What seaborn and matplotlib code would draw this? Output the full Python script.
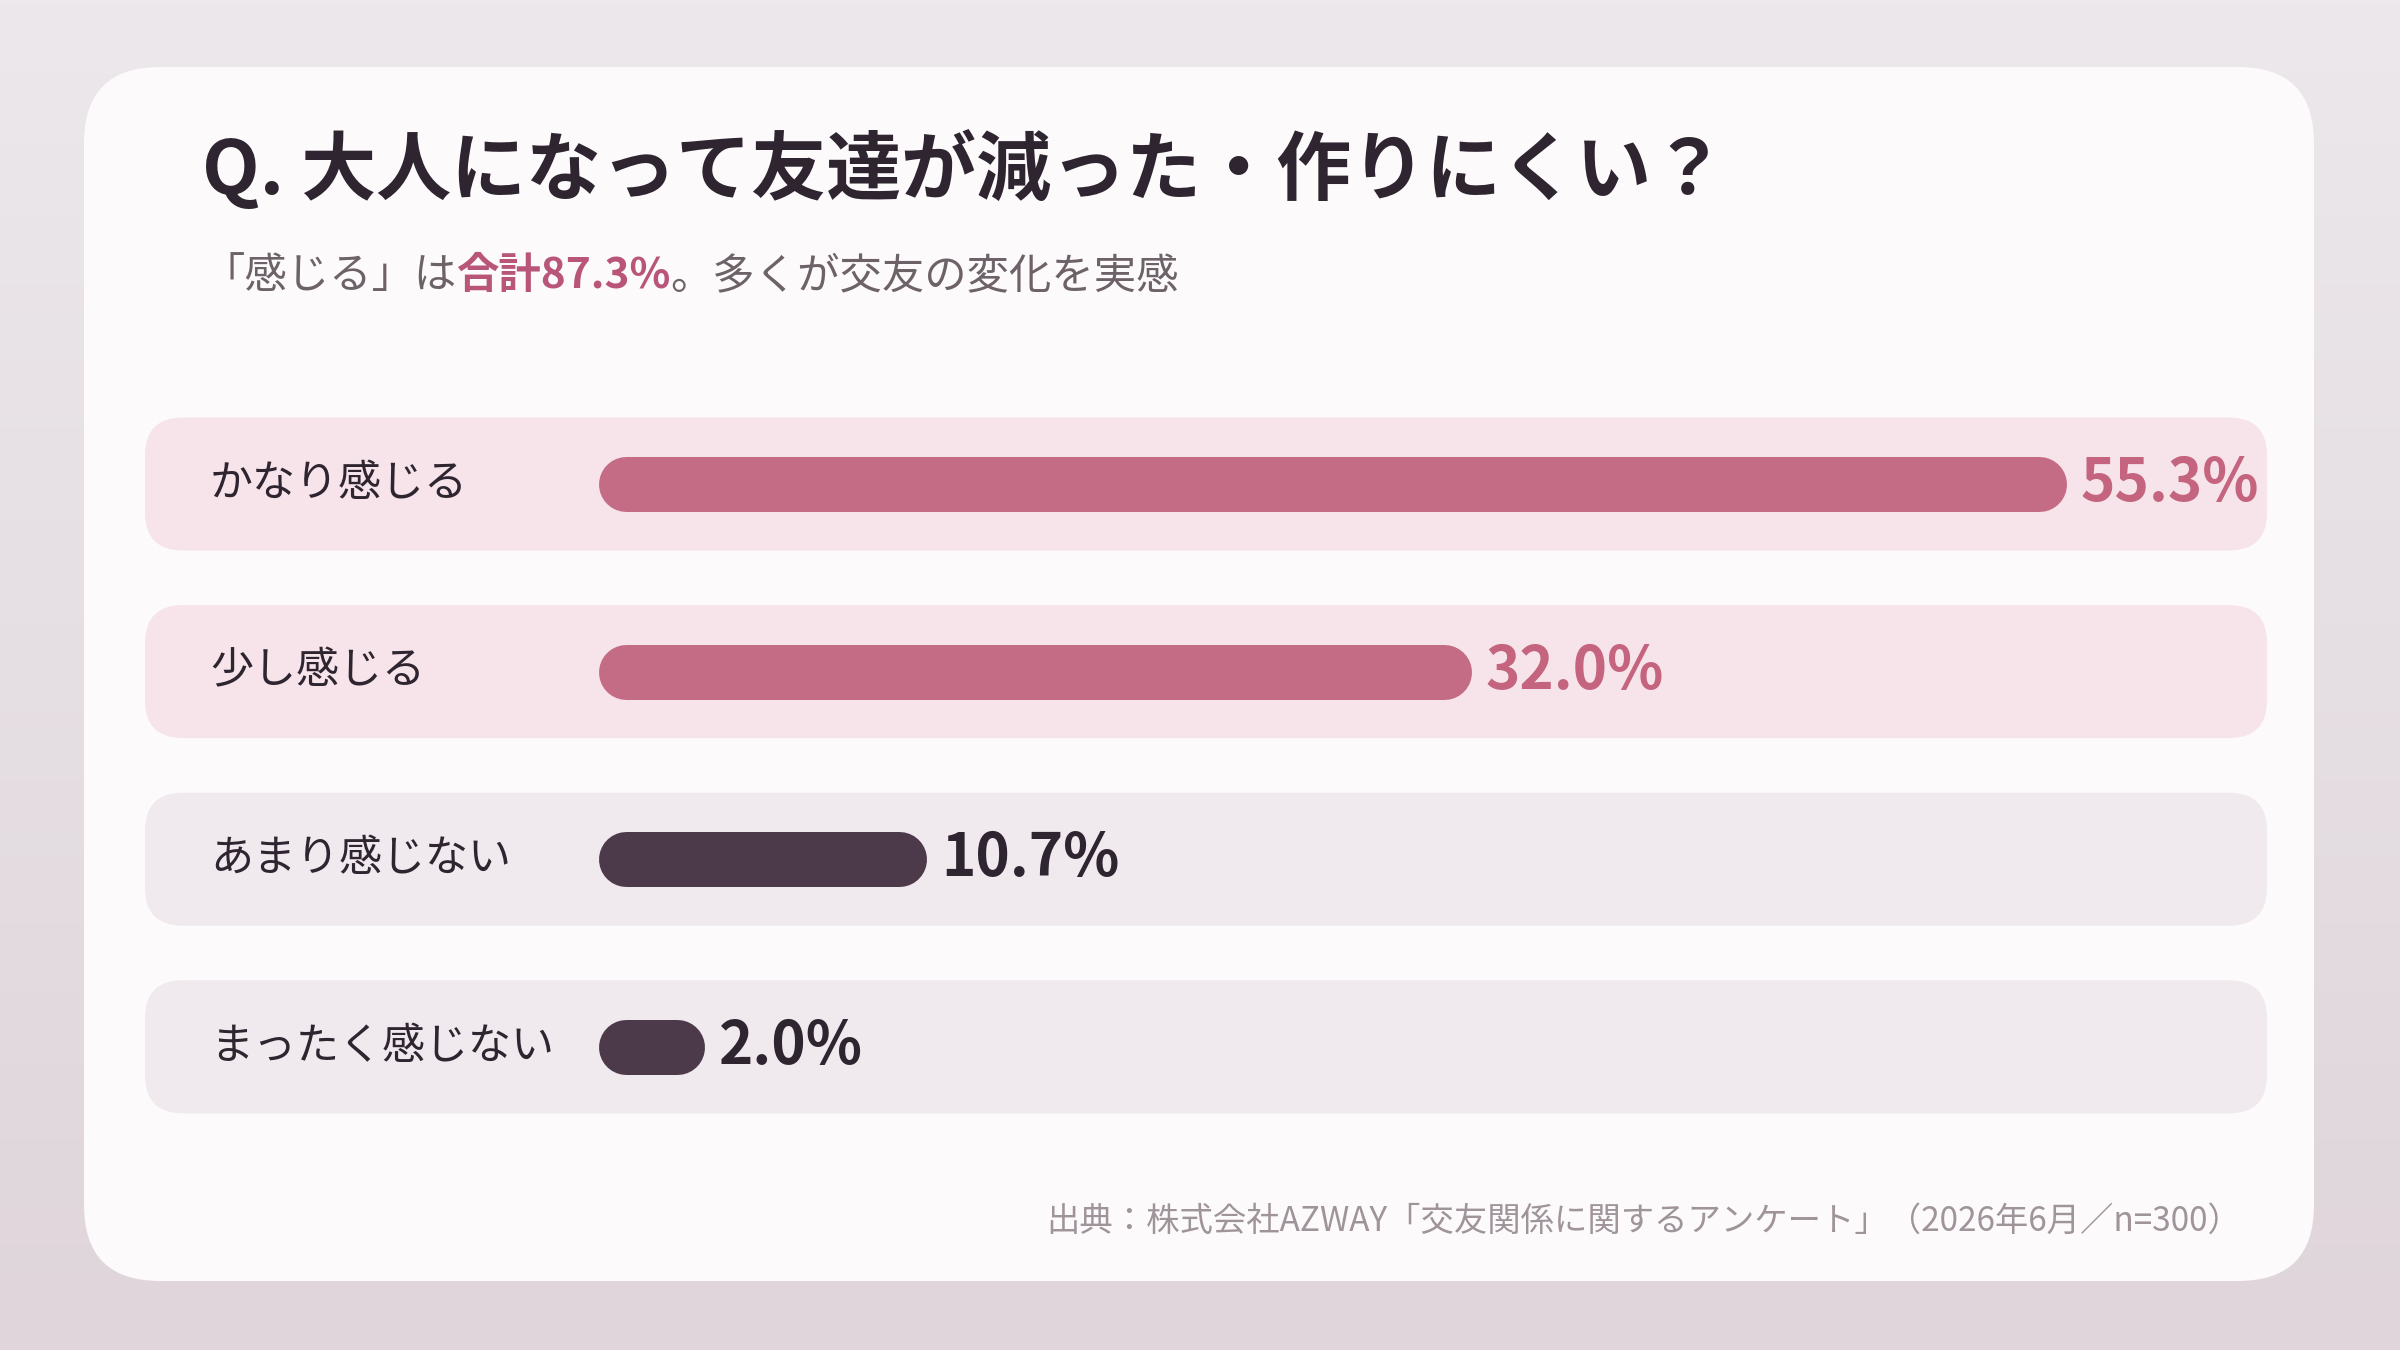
"""
Survey bar chart: 大人になって友達が減った・作りにくい？
"""

import numpy as np
import pandas as pd
import matplotlib
matplotlib.use("Agg")
import matplotlib.pyplot as plt
import seaborn as sns
from matplotlib.patches import FancyBboxPatch

# ---- data ----
categories = ["かなり感じる", "少し感じる", "あまり感じない", "まったく感じない"]
percentages = [55.3, 32.0, 10.7, 2.0]
groups = ["感じる", "感じる", "感じない", "感じない"]

title = "Q. 大人になって友達が減った・作りにくい？"
subtitle_pre = "「感じる」は"
subtitle_post = "。多くが交友の変化を実感"
source = "出典：株式会社AZWAY「交友関係に関するアンケート」（2026年6月／n=300）"

# ---- style ----
W, H, DPI = 2400, 1350, 100
bar_colors = {"感じる": "#c46b85", "感じない": "#4c3a4b"}
value_colors = {"感じる": "#c4647f", "感じない": "#2e2530"}
row_colors = {"感じる": "#f6e4ea", "感じない": "#f0e9ed"}
dark = "#2e2530"
gray = "#6e6269"
accent = "#b85578"

sns.set_theme(style="white")
plt.rcParams["font.family"] = ["Noto Sans CJK JP", "DejaVu Sans"]

fig = plt.figure(figsize=(W / DPI, H / DPI), dpi=DPI)

# background layer in pixel coordinates
bg = fig.add_axes([0, 0, 1, 1])
bg.set_xlim(0, W)
bg.set_ylim(H, 0)
bg.axis("off")

grad = np.linspace(0, 1, 256)[:, None]
bg_cmap = matplotlib.colors.LinearSegmentedColormap.from_list("bg", ["#ece8eb", "#dfd5db"])
bg.imshow(grad, cmap=bg_cmap, extent=[0, W, H, 0], aspect="auto", zorder=0)

# card
card = FancyBboxPatch((84, 67), 2230, 1214, boxstyle="round,pad=0,rounding_size=76",
                      facecolor="#fcfafb", edgecolor="none", zorder=1)
bg.add_patch(card)

# layout of the rows
row_top = 484.0      # pixel centre of first row
row_step = 187.6     # pixel distance between rows
row_h = 133
px_per_pct = 25.56
x0_px = 626
bar_px = 55

for i, g in enumerate(groups):
    yc = row_top + i * row_step
    bg.add_patch(FancyBboxPatch((145, yc - row_h / 2), 2122, row_h,
                                boxstyle="round,pad=0,rounding_size=38",
                                facecolor=row_colors[g], edgecolor="none", zorder=2))
    bg.text(210, yc, categories[i], fontsize=31, color=dark, va="center", ha="left", zorder=3)

# title + subtitle
bg.text(202, 170, title, fontsize=54, fontweight="bold", color=dark, va="center", ha="left", zorder=3)

renderer = fig.canvas.get_renderer()
total = sum(p for p, g in zip(percentages, groups) if g == "感じる")
pieces = [(subtitle_pre, gray, "normal"), (f"合計{total:.1f}%", accent, "bold"),
          (subtitle_post, gray, "normal")]
x = 202
for txt, col, wt in pieces:
    t = bg.text(x, 276, txt, fontsize=30.5, color=col, fontweight=wt, va="center", ha="left", zorder=3)
    bb = t.get_window_extent(renderer=renderer)
    x += bb.width

# source
bg.text(2241, 1221, source, fontsize=24, color="#a0949b", va="center", ha="right", zorder=3)

# ---- bars ----
xmax = 60
ax = fig.add_axes([x0_px / W, 1 - (row_top + 3.5 * row_step) / H,
                   xmax * px_per_pct / W, 4 * row_step / H])
ax.patch.set_alpha(0)

df = pd.DataFrame({"label": categories, "pct": percentages, "group": groups})
sns.barplot(data=df, x="pct", y="label", hue="group", palette=bar_colors,
            orient="h", dodge=False, legend=False, width=0.3, ax=ax)

lw_pt = bar_px * 72 / DPI
cap_pt = lw_pt / 2
for p in list(ax.patches):
    w = p.get_width()
    if not np.isfinite(w) or w <= 0:
        p.remove()
        continue
    yc = p.get_y() + p.get_height() / 2
    g = groups[int(round(yc))]
    ax.plot([0, w], [yc, yc], color=bar_colors[g], lw=lw_pt,
            solid_capstyle="round", clip_on=False, zorder=3)
    ax.annotate(f"{w:.1f}%", xy=(w, yc), xytext=(cap_pt + 10, 0), textcoords="offset points",
                fontsize=42, fontweight="bold", color=value_colors[g],
                va="center", ha="left", annotation_clip=False, zorder=4)
    p.remove()

ax.set_xlim(0, xmax)
ax.set_ylim(3.5, -0.5)
ax.axis("off")

fig.savefig("out.png", dpi=DPI)
